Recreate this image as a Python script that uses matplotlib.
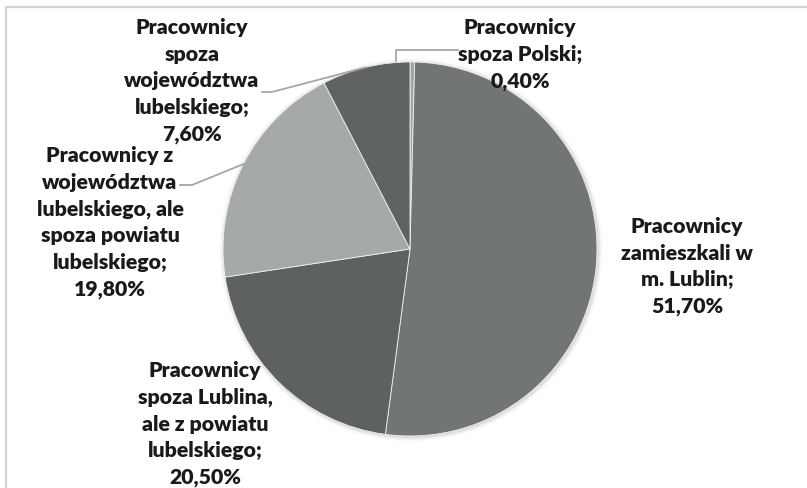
import matplotlib
matplotlib.use("Agg")
import matplotlib.pyplot as plt
import numpy as np

# Data
categories = [
    "Pracownicy\nspoza Polski;",
    "Pracownicy\nzamieszkali w\nm. Lublin;",
    "Pracownicy\nspoza Lublina,\nale z powiatu\nlubelskiego;",
    "Pracownicy z\nwojewództwa\nlubelskiego, ale\nspoza powiatu\nlubelskiego;",
    "Pracownicy\nspoza\nwojewództwa\nlubelskiego;",
]
values = [0.40, 51.70, 20.50, 19.80, 7.60]
value_labels = ["0,40%", "51,70%", "20,50%", "19,80%", "7,60%"]
colors = ["#a2a5a6", "#727576", "#5e6162", "#a6a9aa", "#606364"]

W, H = 807, 489
fig = plt.figure(figsize=(W / 100, H / 100), dpi=100)
ax = fig.add_axes([0, 0, 1, 1])

cx, cy, R = 410, 239, 187

# soft shadow
for i, a in enumerate([0.10, 0.07, 0.05, 0.03, 0.015]):
    ax.add_patch(plt.Circle((cx + 1, cy - 1), R + 1 + i, color="#808080", alpha=a, lw=0, zorder=0))

wedges, _ = ax.pie(values, colors=colors, startangle=90, counterclock=False,
                   center=(cx, cy), radius=R, frame=True,
                   wedgeprops=dict(linewidth=0.6, edgecolor="#f0f0f0"))
ax.set_xlim(0, W)
ax.set_ylim(0, H)
ax.set_aspect("equal")
ax.axis("off")

font = dict(family=["Lato", "DejaVu Sans"], fontweight="heavy", fontsize=15.3,
            color="#1a1a1a", ha="center", va="top", linespacing=1.47)

# label text positions (center x, top y in pixel-from-top coords)
label_pos = [(520, 18), (687, 217), (205, 361), (110, 146), (192, 18)]
for cat, vl, (lx, ly) in zip(categories, value_labels, label_pos):
    ax.text(lx, H - ly, cat + "\n" + vl, **font)

# leader lines
def edge_point(w):
    th = np.deg2rad((w.theta1 + w.theta2) / 2)
    return cx + R * np.cos(th), cy + R * np.sin(th)

lc = "#a6a6a6"
# 0.4%
ex, ey = edge_point(wedges[0])
ax.plot([458, 396, 396], [H - 51, H - 51, ey + 1], color=lc, lw=1.3, zorder=5)
# 7.6%
ex, ey = edge_point(wedges[4])
ax.plot([262, 272, ex], [H - 93, H - 93, ey], color=lc, lw=1.3, zorder=5)
# 19.8%
ex, ey = edge_point(wedges[3])
ax.plot([180, 192, ex], [H - 186, H - 186, ey], color=lc, lw=1.3, zorder=5)

# chart frame
ax.plot([5.5, 5.5, W], [0, H - 7.5, H - 7.5], color="#d4d4d4", lw=1.6, zorder=6,
        solid_joinstyle="miter")

fig.savefig("out.png", dpi=100)
